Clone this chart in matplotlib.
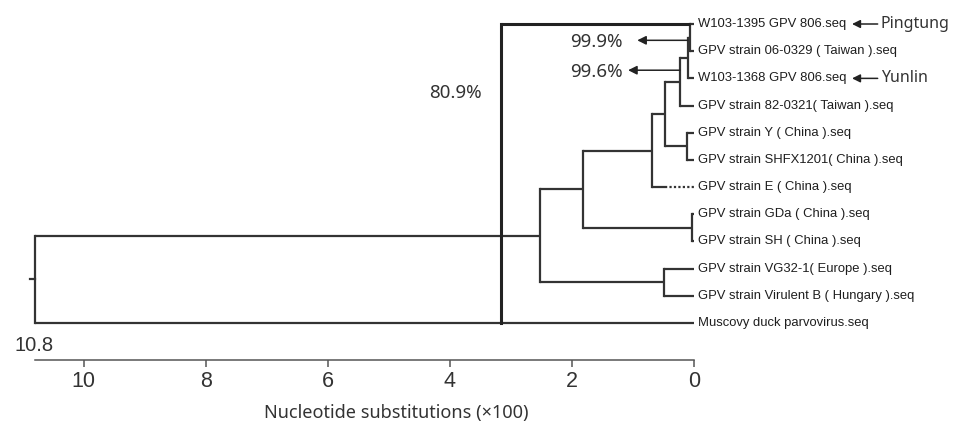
import matplotlib
matplotlib.use("Agg")
import matplotlib.pyplot as plt
from matplotlib import font_manager

# ---------------- data ----------------
leaf_labels = [
    "W103-1395 GPV 806.seq",
    "GPV strain 06-0329 ( Taiwan ).seq",
    "W103-1368 GPV 806.seq",
    "GPV strain 82-0321( Taiwan ).seq",
    "GPV strain Y ( China ).seq",
    "GPV strain SHFX1201( China ).seq",
    "GPV strain E ( China ).seq",
    "GPV strain GDa ( China ).seq",
    "GPV strain SH ( China ).seq",
    "GPV strain VG32-1( Europe ).seq",
    "GPV strain Virulent B ( Hungary ).seq",
    "Muscovy duck parvovirus.seq",
]
# clades (leaf indices) and their depth (nucleotide substitutions x100)
clade_members = [
    [0, 1], [0, 1, 2], [0, 1, 2, 3], [4, 5], [0, 1, 2, 3, 4, 5],
    [0, 1, 2, 3, 4, 5, 6], [7, 8], [0, 1, 2, 3, 4, 5, 6, 7, 8], [9, 10],
    list(range(11)), list(range(12)),
]
clade_heights = [0.065, 0.10, 0.23, 0.11, 0.47, 0.69, 0.03, 1.82, 0.49, 2.52, 10.8]
dotted_leaf = 6
dotted_from = 0.48
identity_height = 3.17
identity_label = "80.9%"
pct_labels = ["99.9%", "99.6%"]
pct_arrow_tail = [0.10, 0.23]
pct_arrow_head = [0.93, 1.08]
pct_arrow_y = [0.6, 1.7]
site_labels = ["Pingtung", "Yunlin"]
site_leaves = [0, 2]
root_label = "10.8"
xticks = [10, 8, 6, 4, 2, 0]
xlabel = "Nucleotide substitutions (\u00d7100)"

# ---------------- figure ----------------
W, H = 957, 423
fig = plt.figure(figsize=(W / 100, H / 100), dpi=100)
ax = fig.add_axes([35 / W, 63 / H, 659 / W, 360 / H])
ax.set_xlim(10.8, 0)
ax.set_ylim(12.36, -0.883)

tree_col = "#333333"
tree_lw = 1.6

installed = {f.name for f in font_manager.fontManager.ttflist}
if "Liberation Sans Narrow" in installed:
    leaf_font, leaf_size = ["Liberation Sans Narrow", "DejaVu Sans"], 11.5
else:
    leaf_font, leaf_size = ["Liberation Sans", "DejaVu Sans"], 9.4
note_font = ["Noto Sans", "DejaVu Sans"]

# compute tree geometry
order = sorted(range(len(clade_members)), key=lambda i: len(clade_members[i]))
ypos = {}
hpos = {}
for i in range(len(leaf_labels)):
    ypos[("L", i)] = float(i)
    hpos[("L", i)] = 0.0

for ci in order:
    mem = set(clade_members[ci])
    subs = [cj for cj in range(len(clade_members))
            if cj != ci and set(clade_members[cj]) < mem]
    maximal = [cj for cj in subs
               if not any(set(clade_members[cj]) < set(clade_members[ck]) for ck in subs)]
    covered = set()
    children = []
    for cj in maximal:
        children.append(("C", cj))
        covered |= set(clade_members[cj])
    for l in sorted(mem - covered):
        children.append(("L", l))
    h = clade_heights[ci]
    ys = [ypos[c] for c in children]
    ymid = (min(ys) + max(ys)) / 2
    ypos[("C", ci)] = ymid
    hpos[("C", ci)] = h
    ax.plot([h, h], [min(ys), max(ys)], color=tree_col, lw=tree_lw,
            solid_capstyle="projecting", clip_on=False)
    for c in children:
        if c == ("L", dotted_leaf):
            ax.plot([h, dotted_from], [ypos[c]] * 2, color=tree_col, lw=tree_lw,
                    solid_capstyle="butt", clip_on=False)
            ax.plot([dotted_from, 0], [ypos[c]] * 2, color=tree_col, lw=tree_lw,
                    linestyle=(0, (1, 1)), clip_on=False)
        else:
            ax.plot([h, hpos[c]], [ypos[c]] * 2, color=tree_col, lw=tree_lw,
                    solid_capstyle="butt", clip_on=False)

# root stub
root_y = ypos[("C", len(clade_members) - 1)]
ax.plot([10.8, 10.88], [root_y, root_y], color=tree_col, lw=tree_lw, clip_on=False)

# leaf labels
for i, lab in enumerate(leaf_labels):
    ax.text(-0.07, i, lab, ha="left", va="center", fontsize=leaf_size,
            family=leaf_font, color="#1e1e1e", clip_on=False)

# identity bracket (80.9%)
ax.plot([identity_height, identity_height], [0, len(leaf_labels) - 1],
        color="#222222", lw=2.2, solid_capstyle="projecting", clip_on=False)
ax.plot([identity_height, clade_heights[0]], [0, 0], color="#222222", lw=2.2,
        solid_capstyle="butt", clip_on=False)
ax.text(3.91, 2.54, identity_label, ha="center", va="center", fontsize=13.5,
        family=note_font, color="#333333")

# percentage arrows
for lab, t, hd, y in zip(pct_labels, pct_arrow_tail, pct_arrow_head, pct_arrow_y):
    ax.annotate("", xy=(hd, y), xytext=(t, y), annotation_clip=False,
                arrowprops=dict(arrowstyle="-|>", color="#222222", lw=1.1,
                                mutation_scale=13, shrinkA=0, shrinkB=0))
    ax.text(1.60, y + 0.05, lab, ha="center", va="center", fontsize=13.5,
            family=note_font, color="#333333")

# site arrows
for lab, li in zip(site_labels, site_leaves):
    ax.annotate("", xy=(-2.59, li), xytext=(-3.01, li), annotation_clip=False,
                arrowprops=dict(arrowstyle="-|>", color="#222222", lw=1.1,
                                mutation_scale=12, shrinkA=0, shrinkB=0))
    ax.text(-3.06, li, lab, ha="left", va="center", fontsize=11.5,
            family=note_font, color="#333333", clip_on=False)

# 10.8 label
ax.text(10.81, 11.81, root_label, ha="center", va="center", fontsize=14.5,
        family=["Liberation Sans", "DejaVu Sans"], color="#333333", clip_on=False)

# axis styling
for s in ["left", "right", "top"]:
    ax.spines[s].set_visible(False)
ax.spines["bottom"].set_color("#555555")
ax.spines["bottom"].set_linewidth(1.1)
ax.set_yticks([])
ax.set_xticks(xticks)
ax.set_xticklabels([str(t) for t in xticks], family=["Liberation Sans", "DejaVu Sans"],
                   fontsize=15.5, color="#333333")
ax.tick_params(axis="x", length=5, width=1.1, color="#555555", pad=3)
ax.set_xlabel(xlabel, family=note_font, fontsize=13, color="#333333")
ax.xaxis.set_label_coords((396 - 35) / 659, -53 / 360)
ax.xaxis.label.set_va("center")
ax.patch.set_visible(False)

fig.savefig("out.png", dpi=100)
